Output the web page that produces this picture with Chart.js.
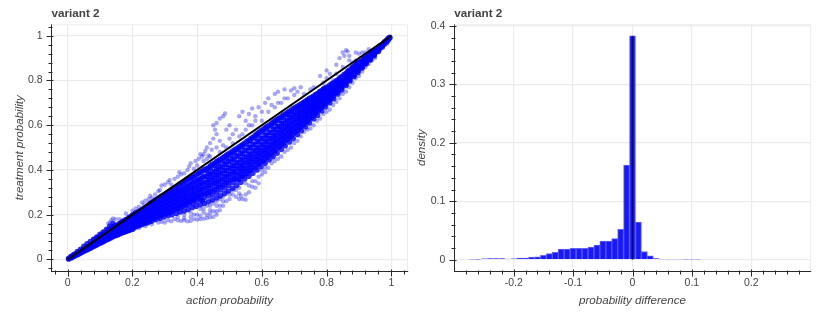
<!DOCTYPE html>
<html><head><meta charset="utf-8">
<style>
html,body{margin:0;padding:0;background:#fff;overflow:hidden}
canvas{position:absolute;top:0;display:block;filter:blur(0.35px)}
#a{left:0}
#b{left:406px}
</style>
<script src="https://cdn.jsdelivr.net/npm/chart.js@4"></script>
</head><body>
<canvas id="a" width="416" height="329"></canvas><canvas id="b" width="426" height="329"></canvas>
<script>
const titleText = "variant 2";
const scatterXLabel = "action probability", scatterYLabel = "treatment probability";
const histXLabel = "probability difference", histYLabel = "density";

// Dense part of the cloud: each row is one x followed by the y values read at that x.
const coreColumns = [
[.003,.002,.004],[.01,.006,.01,.013],[.02,.014,.018,.023],[.03,.02,.027,.035],[.04,.028,.035,.045],
[.05,.036,.045,.058],[.06,.043,.053,.07],[.07,.05,.062,.08],[.08,.058,.072,.09],[.09,.065,.08,.1],
[.10,.073,.09,.112],[.11,.08,.098,.122],[.12,.088,.107,.135],[.13,.095,.115,.148],[.14,.102,.125,.16],
[.15,.108,.13,.15],[.16,.113,.128,.14,.16],[.17,.12,.135,.15,.17],[.18,.125,.143,.16,.178],[.19,.13,.15,.17,.188],[.20,.135,.155,.175,.198],
[.21,.146,.158,.171,.183,.196,.208],[.222,.152,.165,.177,.19,.204,.216],[.235,.16,.172,.186,.199,.213,.227],
[.247,.164,.18,.193,.208,.222,.24],[.26,.172,.186,.2,.213,.229,.244,.254],[.272,.178,.194,.209,.224,.238,.252,.266],
[.285,.184,.2,.215,.231,.248,.263,.278],[.297,.19,.207,.224,.24,.256,.273,.288],[.31,.196,.213,.23,.248,.264,.28,.3],
[.322,.2,.219,.237,.255,.274,.291,.311],[.335,.205,.226,.245,.263,.282,.302,.322],[.347,.212,.232,.252,.272,.291,.311,.335],
[.36,.216,.24,.26,.279,.3,.32,.347],[.372,.223,.246,.268,.289,.31,.331,.358],[.385,.232,.252,.274,.296,.317,.342,.368],
[.397,.238,.26,.283,.304,.327,.351,.378],[.41,.244,.268,.292,.313,.337,.36,.39],[.422,.25,.275,.298,.322,.346,.372,.402],
[.435,.258,.284,.307,.332,.356,.383,.41],[.447,.266,.29,.316,.342,.367,.392,.425],[.46,.275,.3,.326,.351,.378,.405,.437],
[.472,.284,.31,.335,.36,.387,.414,.448],[.485,.295,.32,.346,.37,.398,.427,.46],[.497,.306,.332,.356,.381,.41,.44,.472],
[.51,.318,.344,.368,.394,.42,.45,.484],[.522,.33,.355,.38,.405,.432,.463,.496],[.535,.345,.37,.394,.418,.445,.476,.508],
[.547,.36,.383,.406,.431,.458,.488,.52],[.56,.372,.396,.42,.444,.47,.5,.533],[.572,.385,.41,.434,.458,.484,.514,.546],
[.585,.4,.424,.447,.472,.498,.528,.562],[.597,.415,.438,.461,.485,.512,.54,.575],[.61,.43,.452,.475,.499,.526,.554,.588],
[.622,.445,.468,.49,.514,.54,.568,.6],[.635,.46,.483,.505,.528,.553,.58,.614],[.647,.475,.498,.52,.542,.566,.594,.626],
[.66,.492,.514,.535,.558,.58,.606,.638],[.672,.508,.53,.55,.572,.595,.62,.65],[.685,.525,.547,.568,.588,.61,.634,.662],
[.697,.54,.562,.582,.602,.624,.648,.674],[.71,.558,.578,.598,.618,.638,.66,.685],[.722,.575,.595,.614,.633,.652,.672,.696],
[.735,.592,.612,.63,.648,.666,.686,.708],[.747,.61,.628,.646,.663,.68,.698,.72],[.76,.628,.645,.662,.678,.694,.71,.73],
[.772,.645,.662,.678,.693,.708,.724,.742],[.785,.664,.68,.695,.708,.722,.737,.755],[.797,.682,.697,.71,.723,.736,.75,.768],
[.81,.7,.714,.726,.738,.75,.763,.78],[.822,.718,.73,.742,.753,.765,.777,.79],[.835,.74,.75,.76,.77,.78,.79,.803],
[.847,.758,.768,.778,.788,.798,.808,.818],[.86,.778,.787,.796,.805,.814,.823,.832],[.872,.798,.806,.815,.823,.832,.84,.848],
[.885,.818,.825,.833,.84,.848,.856,.864],[.897,.836,.843,.85,.857,.864,.872,.88],[.91,.856,.862,.868,.874,.88,.888],
[.922,.874,.88,.886,.892,.898,.905],[.935,.892,.897,.902,.908,.914,.92],[.947,.91,.915,.92,.925,.931],
[.96,.93,.935,.94,.945],[.972,.95,.955,.96],[.985,.97,.975,.98],[.995,.99,.993],
[.015,.011,.016],[.025,.018,.024],[.035,.025,.032],[.045,.032,.041],[.055,.04,.05],[.065,.047,.058],[.075,.055,.068],
[.085,.062,.076,.09],[.095,.07,.085,.1],[.105,.076,.094,.11],[.115,.084,.103,.12],[.125,.09,.11,.13],[.135,.098,.12,.14],
[.145,.105,.128,.15],[.155,.11,.135,.155],[.165,.118,.143,.163],[.175,.122,.148,.172],[.185,.128,.155,.18],[.195,.133,.16,.19],
[.204,.14,.152,.165,.178,.19,.2],[.216,.15,.162,.174,.186,.2,.21],[.229,.156,.169,.182,.195,.208,.222],[.241,.163,.176,.19,.203,.217,.232],
[.254,.17,.182,.197,.21,.226,.24,.25],[.266,.183,.198,.212,.23,.245,.26],[.279,.19,.206,.222,.238,.255,.272],[.291,.197,.214,.23,.249,.265,.283],
[.304,.204,.222,.238,.256,.274,.294],[.316,.21,.228,.246,.265,.284,.305],[.329,.222,.238,.257,.277,.296,.316],[.341,.228,.244,.266,.284,.306,.328],
[.354,.236,.252,.272,.293,.315,.34],[.366,.244,.26,.282,.303,.326,.352],[.379,.258,.268,.29,.314,.336,.362],[.391,.268,.275,.298,.322,.346,.372],
[.404,.276,.286,.31,.332,.356,.384],[.416,.262,.29,.315,.34,.366,.395],[.429,.296,.32,.344,.37,.396,.405],[.441,.302,.33,.355,.38,.41,.418],
[.454,.31,.34,.364,.39,.42,.43],[.466,.322,.348,.374,.4,.428,.442],[.479,.33,.358,.385,.412,.44,.454],[.491,.344,.37,.396,.424,.452,.466],
[.504,.355,.382,.408,.436,.464,.478],[.516,.362,.39,.418,.446,.476,.49],[.529,.358,.382,.408,.432,.46,.49,.502],[.541,.372,.396,.42,.444,.472,.503,.514],
[.554,.384,.408,.434,.458,.486,.516,.528],[.566,.398,.422,.446,.47,.5,.53,.54],[.579,.41,.436,.46,.486,.512,.544,.555],[.591,.426,.45,.474,.498,.526,.556,.568],
[.604,.44,.464,.488,.512,.54,.57,.58],[.616,.456,.478,.502,.528,.554,.584,.594],[.629,.47,.494,.516,.54,.566,.596,.606],[.641,.486,.51,.532,.555,.58,.61,.62],
[.654,.502,.524,.546,.57,.594,.622,.632],[.666,.518,.54,.56,.584,.608,.635,.645],[.679,.536,.558,.578,.6,.622,.648,.656],[.691,.55,.572,.592,.614,.636,.66,.668],
[.704,.568,.588,.608,.628,.65,.672,.68],[.716,.585,.604,.624,.642,.662,.684,.69],[.729,.602,.622,.64,.658,.676,.697,.702],[.741,.618,.636,.654,.672,.69,.71,.714],
[.754,.636,.654,.67,.686,.702,.72,.725],[.766,.654,.67,.686,.7,.716,.733,.737],[.779,.672,.688,.702,.716,.73,.746,.75],[.791,.69,.704,.716,.73,.743,.76,.763],
[.804,.708,.72,.732,.745,.757,.772],[.816,.724,.736,.748,.76,.772,.785],[.829,.745,.756,.766,.776,.786,.797],[.841,.762,.773,.783,.793,.803,.812],
[.854,.782,.791,.8,.81,.819,.826],[.866,.802,.81,.819,.827,.836,.842],[.879,.822,.83,.837,.844,.852,.858],[.891,.84,.847,.854,.861,.868,.874],
[.904,.858,.865,.871,.877,.884],[.916,.876,.883,.889,.895,.9],[.929,.895,.9,.905,.911,.916],[.941,.912,.917,.923,.928],
[.954,.928,.934,.94],[.966,.945,.95,.955],[.979,.963,.968,.973],[.99,.98,.985,.988]
];

// Loose points around the dense part, as x,y pairs.
const fringePairs = [
.14,.183,.135,.175,.13,.165,.125,.16,.148,.18,.16,.18,.18,.205,.2,.218,.21,.228,.22,.235,.23,.255,.24,.262,.235,.245,.25,.27,
.255,.285,.26,.275,.27,.29,.28,.305,.285,.31,.29,.33,.3,.335,.31,.345,.315,.355,.32,.335,.33,.36,.34,.37,.35,.38,.345,.39,
.36,.385,.37,.4,.375,.415,.38,.43,.39,.405,.395,.44,.4,.42,.405,.45,.41,.47,.415,.46,.42,.44,.425,.485,.43,.5,.435,.465,
.44,.52,.445,.49,.45,.54,.45,.6,.455,.58,.46,.56,.46,.61,.47,.63,.48,.64,.486,.652,.47,.53,.48,.51,.49,.58,.5,.6,.5,.54,
.51,.52,.52,.58,.53,.64,.54,.56,.54,.66,.55,.62,.56,.65,.57,.6,.57,.675,.58,.64,.59,.68,.6,.62,.61,.7,.62,.66,.62,.72,
.64,.68,.64,.74,.65,.75,.66,.7,.67,.76,.68,.72,.69,.755,.7,.765,.71,.75,.72,.77,.73,.74,.76,.77,.78,.82,.79,.79,.8,.845,
.81,.83,.82,.8,.83,.87,.84,.9,.85,.925,.86,.935,.865,.93,.855,.91,.87,.89,.88,.88,.89,.925,.9,.92,.905,.9,.91,.925,.92,.925,.93,.94,
.22,.14,.24,.148,.26,.157,.28,.165,.29,.168,.3,.165,.31,.175,.32,.17,.33,.18,.34,.175,.35,.172,.36,.175,.37,.17,.38,.172,
.39,.18,.4,.178,.41,.18,.42,.182,.43,.185,.44,.188,.45,.19,.46,.2,.47,.22,.48,.24,.49,.26,.5,.27,.51,.29,.52,.28,.53,.32,
.54,.27,.55,.267,.56,.3,.57,.325,.58,.35,.59,.34,.6,.38,.61,.39,.62,.41,.63,.43,.64,.44,.65,.45,.66,.46,.67,.48,.68,.49,
.69,.5,.7,.52,.71,.53,.72,.55,.73,.57,.74,.58,.75,.585,.76,.6,.77,.62,.78,.63,.79,.65,.8,.66,.81,.67,.82,.69,.83,.705,
.84,.72,.85,.74,.86,.75,.87,.77,.88,.79,.89,.81,.9,.82,.91,.84,.92,.86,.93,.875,.94,.89,.95,.9,
.36,.2,.38,.21,.4,.2,.42,.21,.44,.22,.46,.24,.48,.26,.43,.24,.45,.25,.47,.27,.41,.225,
.34,.19,.36,.185,.38,.19,.39,.2,.41,.195,.43,.2,.44,.205,.45,.215,.46,.215,.47,.24,.44,.24,.42,.225,.5,.29,.51,.31,.52,.31,
.53,.295,.55,.29,.56,.33,.57,.35,.55,.34,.59,.37,.61,.41,.63,.45,.6,.4,.48,.28,.49,.3,.46,.26,.58,.32,.53,.27,.535,.285,
.42,.47,.43,.45,.44,.46,.46,.5,.47,.48,.49,.5,.51,.56,.53,.55,.55,.58,.56,.6,.58,.62,.6,.66,.63,.69,.65,.7,.67,.72,.7,.735,
.75,.76,.8,.81,.83,.83,.85,.86,.87,.91,.89,.89
];
const diagonalX = [0, 1];
const diagonalY = [0, 1];

const binCenters = [-.27,-.26,-.25,-.24,-.23,-.22,-.21,-.20,-.19,-.18,-.17,-.16,-.15,-.14,-.13,-.12,-.11,-.10,-.09,-.08,-.07,-.06,-.05,-.04,-.03,-.02,-.01,0,.01,.02,.03,.04,.05,.06,.07,.08,.09,.10,.11];
const density = [.0003,.001,.0017,.002,.002,.002,.0012,.0017,.003,.003,.0046,.005,.0074,.0103,.0125,.018,.018,.0195,.0195,.0195,.0217,.025,.032,.032,.036,.052,.162,.383,.0645,.014,.0065,.002,.0008,.0008,.0008,.0008,.0004,.0004,.0004];
const zeroLineX = [0, 0];
const zeroLineY = [0, .383];

const scatterTicksX = [-.04,0,.04,.08,.12,.16,.2,.24,.28,.32,.36,.4,.44,.48,.52,.56,.6,.64,.68,.72,.76,.8,.84,.88,.92,.96,1,1.04];
const scatterTicksY = scatterTicksX;
const scatterMajor = [0,.2,.4,.6,.8,1];
const histTicksX = [-.28,-.26,-.24,-.22,-.2,-.18,-.16,-.14,-.12,-.1,-.08,-.06,-.04,-.02,0,.02,.04,.06,.08,.1,.12,.14,.16,.18,.2,.22,.24,.26,.28];
const histMajorX = [-.2,-.1,0,.1,.2];
const histTicksY = [0,.02,.04,.06,.08,.1,.12,.14,.16,.18,.2,.22,.24,.26,.28,.3,.32,.34,.36,.38,.4];
const histMajorY = [0,.1,.2,.3,.4];

const corePoints = [];
coreColumns.forEach(c => c.slice(1).forEach(y => corePoints.push({x:c[0], y})));
const fringePoints = [];
for (let i = 0; i < fringePairs.length; i += 2) fringePoints.push({x:fringePairs[i], y:fringePairs[i+1]});
const zip = (xs, ys) => xs.map((x,i) => ({x, y:ys[i]}));

const TXT = '#444';
const FAMILY = '"Liberation Sans", Arial, sans-serif';
const isMajor = (v, list) => list.some(m => Math.abs(m - v) < 1e-6);
const fmt = v => String(+v.toFixed(2));

const frame = {
  id:'frame',
  beforeDatasetsDraw(c){
    const a = c.chartArea, g = c.ctx;
    g.save(); g.strokeStyle='#ececec'; g.lineWidth=1;
    g.beginPath(); g.moveTo(a.left,a.top+.5); g.lineTo(a.right,a.top+.5); g.lineTo(a.right,a.bottom); g.stroke();
    g.restore();
  },
  afterDraw(c){
    const g = c.ctx;
    g.save(); g.strokeStyle='#2a2a2a'; g.lineWidth=1;
    const xs=c.scales.x, ys=c.scales.y, b=Math.round(c.chartArea.bottom)+.5, l=Math.round(c.chartArea.left-.5)+.5;
    g.beginPath();
    xs.ticks.forEach(t=>{const p=Math.round(xs.getPixelForValue(t.value))+.5, M=isMajor(t.value,xs.options.majorList);
      g.moveTo(p,b-(M?2:1)); g.lineTo(p,b+(M?5:3));});
    ys.ticks.forEach(t=>{const p=Math.round(ys.getPixelForValue(t.value))+.5, M=isMajor(t.value,ys.options.majorList);
      g.moveTo(l+(M?2:1),p); g.lineTo(l-(M?5:3),p);});
    g.stroke(); g.restore();
  }
};

function axis(cfg){
  return {
    type:'linear', min:cfg.min, max:cfg.max, offset:false, majorList:cfg.major,
    afterBuildTicks(s){ s.ticks = cfg.ticks.map(value => ({value})); },
    afterFit(s){ if(cfg.horizontal) s.height=cfg.size; else s.width=cfg.size; },
    grid:{ drawTicks:false, lineWidth:1.2, color:c => isMajor(c.tick.value,cfg.major) ? '#ececec' : 'rgba(0,0,0,0)', offset:false },
    border:{ display:true, color:'#2a2a2a', width:1 },
    ticks:{ autoSkip:false, maxRotation:0, minRotation:0, padding:cfg.horizontal?6:9, color:TXT,
      font:{family:FAMILY,size:10.5}, callback:v => isMajor(v,cfg.major) ? fmt(v) : '' },
    title:{ display:true, text:cfg.title, color:TXT, padding:cfg.titlePad,
      font:{family:FAMILY,size:11.6,style:'italic',weight:'normal'} }
  };
}
const plugins = {
  legend:{display:false}, tooltip:{enabled:false},
  title:{ display:true, text:titleText, align:'start', fullSize:false, color:TXT,
    padding:{top:6.4,bottom:3.9}, font:{family:FAMILY,size:11.7,weight:'bold',lineHeight:1.2} }
};

new Chart(document.getElementById('a'), {
  type:'scatter',
  data:{datasets:[
    {data:zip(diagonalX,diagonalY), showLine:true, borderColor:'#000', borderWidth:2, pointRadius:0, order:0},
    {data:corePoints, backgroundColor:'rgba(0,0,255,0.82)', borderWidth:0, pointRadius:2.8, order:1},
    {data:fringePoints, backgroundColor:'rgba(0,0,255,0.35)', borderWidth:0, pointRadius:2.2, order:2}
  ]},
  options:{ responsive:false, animation:false, layout:{padding:{right:8.5}}, plugins,
    scales:{
      x:axis({min:-.05,max:1.05,ticks:scatterTicksX,major:scatterMajor,title:scatterXLabel,horizontal:true,size:58,titlePad:{top:0,bottom:21}}),
      y:axis({min:-.052,max:1.051,ticks:scatterTicksY,major:scatterMajor,title:scatterYLabel,size:51.5,titlePad:{top:12.4,bottom:0}})
    }},
  plugins:[frame]
});

const tiny = v => v < .001;
new Chart(document.getElementById('b'), {
  type:'bar',
  data:{datasets:[
    {type:'line', data:zip(zeroLineX,zeroLineY), borderColor:'rgba(0,0,60,0.7)', borderWidth:1.6, pointRadius:0, order:0},
    {data:zip(binCenters,density),
     backgroundColor:c => tiny(c.raw.y) ? 'rgba(130,130,255,0.6)' : 'rgb(24,24,255)',
     borderColor:c => tiny(c.raw.y) ? 'rgba(170,170,255,0.6)' : 'rgba(60,60,255,0.8)', borderWidth:1,
     barPercentage:1, categoryPercentage:1, order:1}
  ]},
  options:{ responsive:false, animation:false, layout:{padding:{right:21.3}}, plugins,
    scales:{
      x:axis({min:-.3,max:.3,ticks:histTicksX,major:histMajorX,title:histXLabel,horizontal:true,size:58,titlePad:{top:0,bottom:21}}),
      y:axis({min:-.0193,max:.4026,ticks:histTicksY,major:histMajorY,title:histYLabel,size:48.3,titlePad:{top:8.4,bottom:0}})
    }},
  plugins:[frame]
});
</script>
</body></html>
